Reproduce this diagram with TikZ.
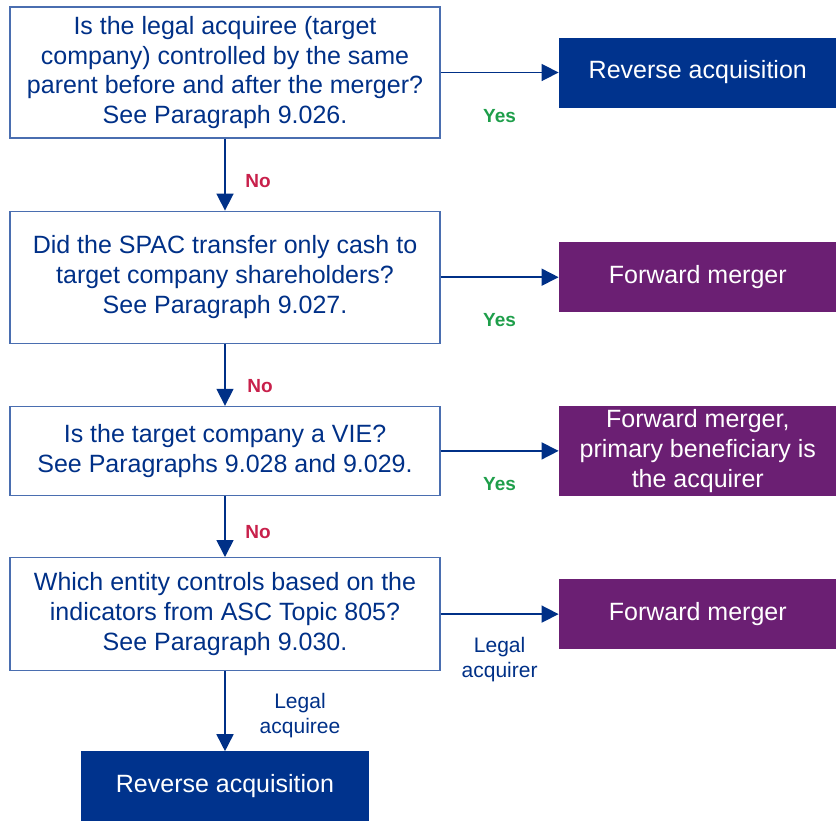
\documentclass[tikz,border=0pt]{standalone}
\usepackage{fontspec}
\setmainfont{Liberation Sans}
\usepackage{tikz}
\usetikzlibrary{positioning,arrows.meta}
\definecolor{qblue}{RGB}{0, 48, 135}
\definecolor{lineblue}{RGB}{74, 110, 176}
\definecolor{darkblue}{RGB}{0, 51, 141}
\definecolor{purple}{RGB}{107, 31, 115}
\definecolor{yesgreen}{RGB}{30, 158, 74}
\definecolor{nored}{RGB}{200, 32, 75}
\tikzstyle{question} = [rectangle, draw=lineblue, line width=1.2pt, text=qblue, align=center, font=\fontsize{25}{29.7}\selectfont, minimum width=430pt, inner sep=0pt]
\tikzstyle{blueres} = [rectangle, fill=darkblue, text=white, align=center, font=\fontsize{25}{30}\selectfont, minimum width=278pt, minimum height=70pt, inner sep=0pt]
\tikzstyle{purpleres} = [blueres, fill=purple]
\tikzstyle{yes} = [text=yesgreen, font=\bfseries\fontsize{19}{20}\selectfont]
\tikzstyle{no} = [text=nored, font=\bfseries\fontsize{19}{20}\selectfont]
\tikzstyle{legal} = [text=qblue, align=center, font=\fontsize{21}{25}\selectfont]
\tikzstyle{tedge}  = [draw, line width=1.6pt, qblue, -{Triangle[length=17pt, width=17pt]}]

\begin{document}
\begin{tikzpicture}
\useasboundingbox (0,0) rectangle (836pt,-823pt);

% questions =============================

\node[question, minimum height=131pt] (q1) at (225pt,-72.5pt) {Is the legal acquiree (target\\company) controlled by the same\\parent before and after the merger?\\See Paragraph 9.026.};
\node[question, minimum height=132pt, below=72pt of q1] (q2) {Did the SPAC transfer only cash to\\target company shareholders?\\See Paragraph 9.027.};
\node[question, minimum height=89pt, below=62pt of q2] (q3) {Is the target company a VIE?\\See Paragraphs 9.028 and 9.029.};
\node[question, minimum height=113pt, below=61pt of q3] (q4) {Which entity controls based on the\\indicators from ASC Topic 805?\\See Paragraph 9.030.};

% outcomes
\node[blueres, right=118pt of q1] (rev1) {Reverse acquisition};
\node[purpleres, right=118pt of q2] (fwd1) {Forward merger};
\node[purpleres, minimum height=90pt, right=118pt of q3] (fwd2) {Forward merger,\\primary beneficiary is\\the acquirer};
\node[purpleres, right=118pt of q4] (fwd3) {Forward merger};
\node[blueres, minimum width=288pt, below=80pt of q4] (rev2) {Reverse acquisition};

% edges to the right
\path[tedge] (q1) -- node[yes, midway, yshift=-44pt] {Yes} (rev1);
\path[tedge] (q2) -- node[yes, midway, yshift=-43pt] {Yes} (fwd1);
\path[tedge] (q3) -- node[yes, midway, yshift=-33pt] {Yes} (fwd2);
\path[tedge] (q4) -- node[legal, midway, yshift=-45pt] {Legal\\acquirer} (fwd3);

% edges down
\path[tedge] (q1) -- node[no, midway, xshift=33pt, yshift=-6pt] {No} (q2);
\path[tedge] (q2) -- node[no, midway, xshift=35pt, yshift=-11pt] {No} (q3);
\path[tedge] (q3) -- node[no, midway, xshift=33pt, yshift=-6pt] {No} (q4);
\path[tedge] (q4) -- node[legal, midway, xshift=75pt, yshift=-4pt] {Legal\\acquiree} (rev2);

\end{tikzpicture}
\end{document}
